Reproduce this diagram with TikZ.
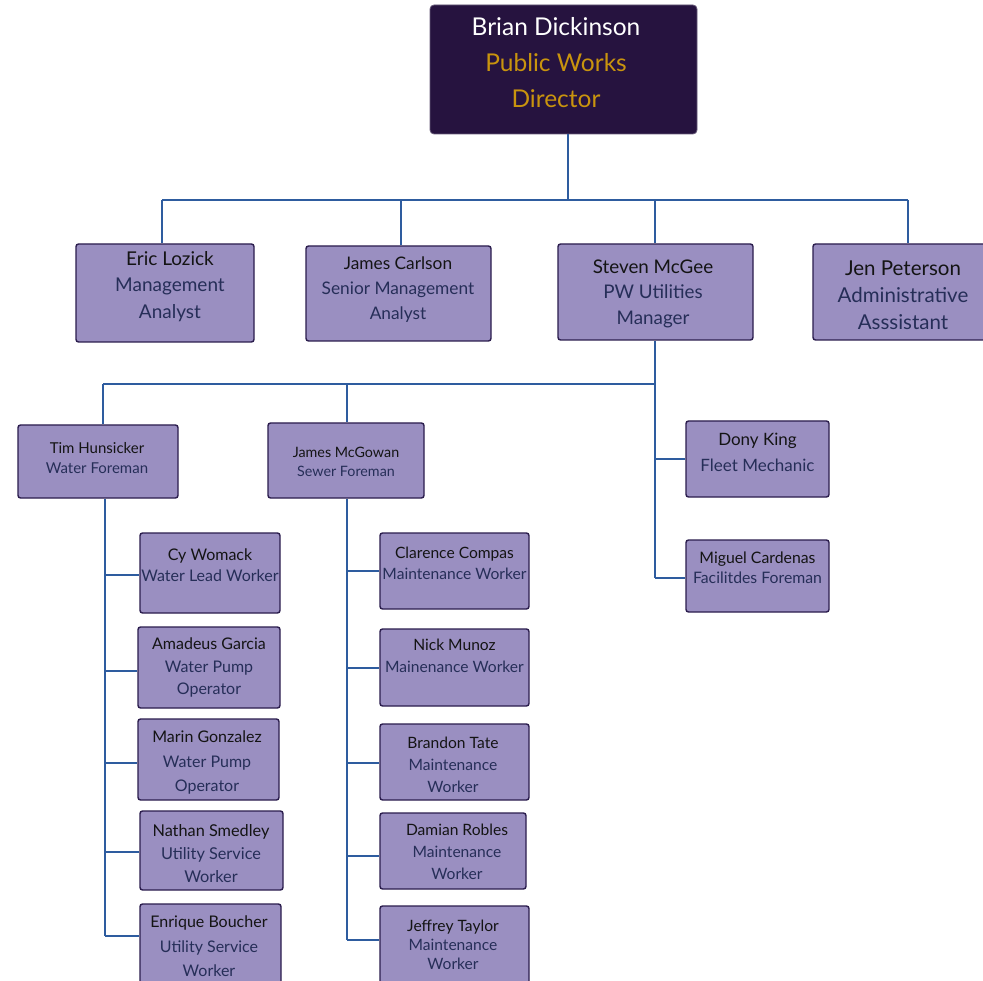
\documentclass[tikz,border=0pt]{standalone}
\usepackage{fontspec}
\setmainfont{Lato}
\definecolor{dirfill}{HTML}{26133F}
\definecolor{gold}{HTML}{C9940E}
\definecolor{boxfill}{HTML}{9A8FC1}
\definecolor{boxline}{HTML}{2B1D4D}
\definecolor{connc}{HTML}{2E5C9F}
\definecolor{namec}{HTML}{141414}
\definecolor{titlec}{HTML}{262E58}
\tikzset{
  pbox/.style={draw=boxline, line width=1.4pt, fill=boxfill, rounded corners=2.5pt, inner sep=0pt},
  dbox/.style={fill=dirfill, draw=dirfill!70!white, line width=0.8pt, rounded corners=4pt, inner sep=0pt},
  ptext/.style={align=center, inner sep=0pt, text=titlec},
  conn/.style={draw=connc, line width=2pt}
}
\newcommand{\nm}[1]{\textcolor{namec}{#1}}
\begin{document}
\begin{tikzpicture}[x=1pt,y=-1pt]
\clip (0,0) rectangle (983,981);
\fill[white] (0,0) rectangle (983,981);
% ---------- boxes ----------
\node[dbox, minimum width=267, minimum height=129] (dir) at (563.5,69.5) {};
\node[ptext, text=gold, font=\fontsize{24.5}{36}\selectfont] (dir-t) at (556,63) {\textcolor{white}{Brian Dickinson}\\Public Works\\Director};

\node[pbox, minimum width=178, minimum height=98] (eric) at (165,293) {};
\node[ptext, font=\fontsize{19}{26.5}\selectfont] (eric-t) at (170,286.5) {\nm{Eric Lozick}\\Management\\Analyst};

\node[pbox, minimum width=185, minimum height=95] (carlson) at (398.5,293.5) {};
\node[ptext, font=\fontsize{17.3}{25}\selectfont] (carlson-t) at (398,290) {\nm{James Carlson}\\Senior Management\\Analyst};

\node[pbox, minimum width=195, minimum height=96] (steven) at (655.5,292) {};
\node[ptext, font=\fontsize{18.8}{25.5}\selectfont] (steven-t) at (653,293.5) {\nm{Steven McGee}\\PW Utilities\\Manager};

\node[pbox, minimum width=177, minimum height=96] (jen) at (901.5,292) {};
\node[ptext, font=\fontsize{20.5}{27}\selectfont] (jen-t) at (903,295) {\nm{Jen Peterson}\\Administrative\\Asssistant};

\node[pbox, minimum width=160, minimum height=73] (tim) at (98,461.5) {};
\node[ptext, font=\fontsize{15}{20}\selectfont] (tim-t) at (97,458) {\nm{Tim Hunsicker}\\Water Foreman};

\node[pbox, minimum width=156, minimum height=75] (mcg) at (346,460.5) {};
\node[ptext, font=\fontsize{14.3}{19}\selectfont] (mcg-t) at (346,461.5) {\nm{James McGowan}\\Sewer Foreman};

\node[pbox, minimum width=143, minimum height=76] (dony) at (757.5,459) {};
\node[ptext, font=\fontsize{17}{26}\selectfont] (dony-t) at (757.5,452) {\nm{Dony King}\\Fleet Mechanic};

\node[pbox, minimum width=143, minimum height=72] (miguel) at (757.5,576) {};
\node[ptext, font=\fontsize{15.8}{20}\selectfont] (miguel-t) at (757.5,568) {\nm{Miguel Cardenas}\\Facilitdes Foreman};

% water column
\node[pbox, minimum width=140, minimum height=80] (cy) at (210,573) {};
\node[ptext, font=\fontsize{16}{21}\selectfont] (cy-t) at (210,565.5) {\nm{Cy Womack}\\Water Lead Worker};

\node[pbox, minimum width=142, minimum height=81] (amadeus) at (209,667.5) {};
\node[ptext, font=\fontsize{16}{22.5}\selectfont] (amadeus-t) at (209,667.5) {\nm{Amadeus Garcia}\\Water Pump\\Operator};

\node[pbox, minimum width=141, minimum height=81] (marin) at (208.5,759.5) {};
\node[ptext, font=\fontsize{16}{24.5}\selectfont] (marin-t) at (207,762.5) {\nm{Marin Gonzalez}\\Water Pump\\Operator};

\node[pbox, minimum width=143, minimum height=79] (nathan) at (211.5,850.5) {};
\node[ptext, font=\fontsize{16.3}{23}\selectfont] (nathan-t) at (211,854) {\nm{Nathan Smedley}\\Utility Service\\Worker};

\node[pbox, minimum width=141, minimum height=91] (enrique) at (210.5,949.5) {};
\node[ptext, font=\fontsize{16}{24.5}\selectfont] (enrique-t) at (209,946.5) {\nm{Enrique Boucher}\\Utility Service\\Worker};

% sewer column
\node[pbox, minimum width=149, minimum height=76] (clarence) at (454.5,571) {};
\node[ptext, font=\fontsize{15.6}{21}\selectfont] (clarence-t) at (454.5,563.5) {\nm{Clarence Compas}\\Maintenance Worker};

\node[pbox, minimum width=149, minimum height=77] (nick) at (454.5,667.5) {};
\node[ptext, font=\fontsize{15.6}{22}\selectfont] (nick-t) at (454.5,656) {\nm{Nick Munoz}\\Mainenance Worker};

\node[pbox, minimum width=149, minimum height=76] (brandon) at (454.5,762) {};
\node[ptext, font=\fontsize{15.6}{22}\selectfont] (brandon-t) at (453,765) {\nm{Brandon Tate}\\Maintenance\\Worker};

\node[pbox, minimum width=146, minimum height=76] (damian) at (453,851) {};
\node[ptext, font=\fontsize{15.6}{22}\selectfont] (damian-t) at (457,852) {\nm{Damian Robles}\\Maintenance\\Worker};

\node[pbox, minimum width=149, minimum height=89] (jeffrey) at (454.5,950.5) {};
\node[ptext, font=\fontsize{15.6}{19}\selectfont] (jeffrey-t) at (453,945) {\nm{Jeffrey Taylor}\\Maintenance\\Worker};

% ---------- connectors ----------
\coordinate (b1) at (568,200);
\coordinate (b2) at (655,384);
\coordinate (sv) at ([xshift=-0.5]steven.north);
\coordinate (ss) at ([xshift=-0.5]steven.south);
\draw[conn] (dir.south -| b1) -- (b1);
\draw[conn] ([xshift=-3]eric.north |- b1) -- ([xshift=6.5]jen.north |- b1);
\draw[conn] ([xshift=-3]eric.north |- b1) -- ([xshift=-3]eric.north);
\draw[conn] ([xshift=2.5]carlson.north |- b1) -- ([xshift=2.5]carlson.north);
\draw[conn] (sv |- b1) -- (sv);
\draw[conn] ([xshift=6.5]jen.north |- b1) -- ([xshift=6.5]jen.north);

\draw[conn] (ss) -- (ss |- b2);
\draw[conn] ([xshift=5]tim.north |- b2) -- (ss |- b2);
\draw[conn] ([xshift=5]tim.north |- b2) -- ([xshift=5]tim.north);
\draw[conn] ([xshift=1]mcg.north |- b2) -- ([xshift=1]mcg.north);
\coordinate (mb) at ([yshift=-2]miguel.west);
\draw[conn] (ss |- b2) -- (ss |- mb);
\draw[conn] (ss |- dony.west) -- (dony.west);
\draw[conn] (ss |- mb) -- (mb);

% water spine
\coordinate (ts) at ([xshift=7]tim.south);
\coordinate (cyb) at ([yshift=-2]cy.west);
\coordinate (amb) at ([yshift=-3.5]amadeus.west);
\coordinate (mab) at ([yshift=-3.5]marin.west);
\coordinate (nab) at ([yshift=-1.5]nathan.west);
\coordinate (enb) at ([yshift=13.5]enrique.west);
\draw[conn] (ts) -- (ts |- enb);
\draw[conn] (ts |- cyb) -- (cyb);
\draw[conn] (ts |- amb) -- (amb);
\draw[conn] (ts |- mab) -- (mab);
\draw[conn] (ts |- nab) -- (nab);
\draw[conn] (ts |- enb) -- (enb);

% sewer spine
\coordinate (ms) at ([xshift=1]mcg.south);
\coordinate (clb) at (clarence.west);
\coordinate (nib) at ([yshift=-0.5]nick.west);
\coordinate (brb) at ([yshift=-1]brandon.west);
\coordinate (dab) at ([yshift=-5]damian.west);
\coordinate (jeb) at ([yshift=10.5]jeffrey.west);
\draw[conn] (ms) -- (ms |- jeb);
\draw[conn] (ms |- clb) -- (clb);
\draw[conn] (ms |- nib) -- (nib);
\draw[conn] (ms |- brb) -- (brb);
\draw[conn] (ms |- dab) -- (dab);
\draw[conn] (ms |- jeb) -- (jeb);
\end{tikzpicture}
\end{document}
